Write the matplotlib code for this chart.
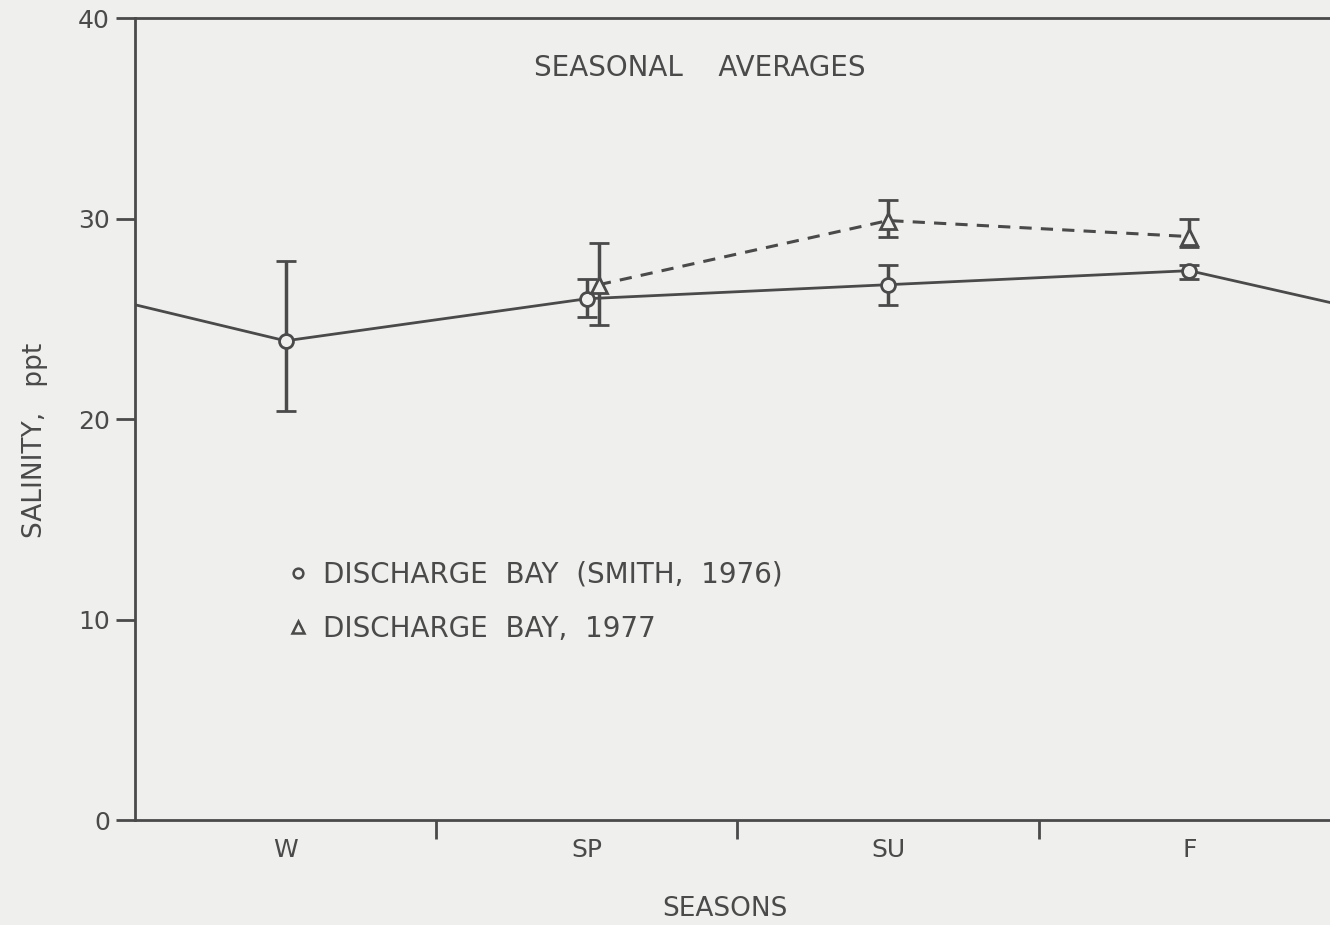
import numpy as np
import matplotlib.pyplot as plt
from matplotlib.lines import Line2D

# Data
seasons = ['W', 'SP', 'SU', 'F']
smith_mean = [23.9, 26.0, 26.7, 27.4]
smith_lo = [20.4, 25.1, 25.7, 27.0]
smith_hi = [27.9, 27.0, 27.7, 27.7]
bay77_mean = [26.7, 29.9, 29.1]
bay77_lo = [24.7, 29.1, 28.6]
bay77_hi = [28.8, 30.9, 30.0]
edge_value = 25.7   # line carried to the plot edges (wrap-around F -> W)

ink = '#4a4a4a'
bg = '#efefed'

x = np.arange(len(seasons))
x77 = x[1:] + np.array([0.04, 0.0, 0.0])

fig = plt.figure(figsize=(13.3, 9.25), dpi=100)
fig.patch.set_facecolor(bg)
ax = fig.add_axes([0.1015, 0.1135, 0.906, 0.867])
ax.set_facecolor(bg)

# solid line for Smith 1976, extended to both edges
xs = np.concatenate([[-0.5], x, [3.5]])
ys = np.concatenate([[edge_value], smith_mean, [edge_value]])
ax.plot(xs, ys, color=ink, lw=2, zorder=2)
ax.errorbar(x, smith_mean,
            yerr=[np.array(smith_mean) - smith_lo, np.array(smith_hi) - smith_mean],
            fmt='o', ms=10, mfc=bg, mec=ink, mew=2, ecolor=ink, elinewidth=2.5,
            capsize=7, capthick=2.5, zorder=3)

ax.plot(x77, bay77_mean, color=ink, lw=2.2, ls=(0, (4, 3)), zorder=2)
ax.errorbar(x77, bay77_mean,
            yerr=[np.array(bay77_mean) - bay77_lo, np.array(bay77_hi) - bay77_mean],
            fmt='^', ms=11, mfc=bg, mec=ink, mew=2, ecolor=ink, elinewidth=2.5,
            capsize=7, capthick=2.5, zorder=3)

ax.set_xlim(-0.5, 3.5)
ax.set_ylim(0, 40)
ax.set_xticks(x)
ax.set_xticklabels(seasons)
ax.set_xticks([0.5, 1.5, 2.5], minor=True)
ax.set_yticks([0, 10, 20, 30, 40])
ax.tick_params(axis='x', which='major', length=0, pad=13, labelsize=18, labelcolor=ink)
ax.tick_params(axis='x', which='minor', length=14, width=2, color=ink, direction='out')
ax.tick_params(axis='y', length=14, width=2, color=ink, pad=4, labelsize=18, labelcolor=ink)

for side in ['left', 'bottom', 'top']:
    ax.spines[side].set_color(ink)
    ax.spines[side].set_linewidth(2)
ax.spines['right'].set_visible(False)

ax.set_ylabel('SALINITY,   ppt', fontsize=19, color=ink)
ax.yaxis.set_label_coords(-0.072, 0.474)
ax.set_xlabel('SEASONS', fontsize=19, color=ink, va='center')
ax.xaxis.set_label_coords(0.49, -0.111)

ax.text(1.375, 37.5, 'SEASONAL    AVERAGES', ha='center', va='center',
        fontsize=20, color=ink)

handles = [Line2D([], [], ls='none', marker='o', ms=7, mfc=bg, mec=ink, mew=1.8),
           Line2D([], [], ls='none', marker='^', ms=8, mfc=bg, mec=ink, mew=1.8)]
ax.legend(handles, ['DISCHARGE  BAY  (SMITH,  1976)', 'DISCHARGE  BAY,  1977'],
          loc='upper left', bbox_to_anchor=(0.105, 0.355), frameon=False,
          handlelength=0.8, handletextpad=0.5, labelspacing=0.95,
          fontsize=20, labelcolor=ink)

fig.savefig('out.png', dpi=100, facecolor=bg)
